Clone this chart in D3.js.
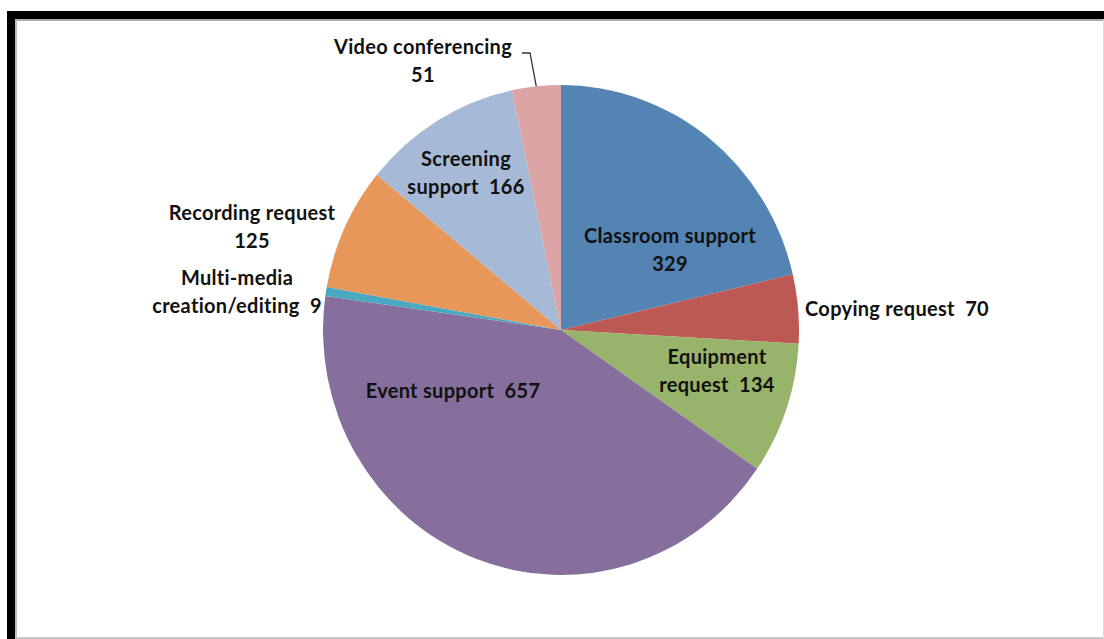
<!DOCTYPE html>
<html>
<head>
<meta charset="utf-8">
<script src="https://cdn.jsdelivr.net/npm/d3@7"></script>
<style>
  html, body { margin: 0; padding: 0; background: #fff; }
  svg { display: block; }
  .lbl { font-family: Lato, "Open Sans", sans-serif; font-weight: 700; font-size: 20px; letter-spacing: 0.3px; fill: #111; }
</style>
</head>
<body>
<svg id="chart" width="1104" height="639"></svg>
<script>
const categories = ['Classroom support', 'Copying request', 'Equipment request', 'Event support',
  'Multi-media creation/editing', 'Recording request', 'Screening support', 'Video conferencing'];
const values = [329, 70, 134, 657, 9, 125, 166, 51];
const colors = ['#5384b4', '#bd5955', '#98b36a', '#866f9d', '#4aa9c0', '#e8975a', '#a6b9d6', '#dca4a5'];
// label lines, as in the picture
const labelLines = [
  ['Classroom support', '329'],
  ['Copying request  70'],
  ['Equipment', 'request  134'],
  ['Event support  657'],
  ['Multi-media', 'creation/editing  9'],
  ['Recording request', '125'],
  ['Screening', 'support  166'],
  ['Video conferencing', '51'],
];
// label centres, relative to the pie centre
const labelPos = [
  [109, -80], [336, -21], [156, 41], [-108, 61],
  [-324, -38], [-309, -103], [-95, -157], [-138, -269],
];

const svg = d3.select('#chart');
const cx = 561, cy = 330, r = 245, sx = 238 / 245;

// frame
svg.append('rect').attr('x', 7).attr('y', 11).attr('width', 1097).attr('height', 8).attr('fill', '#000');
svg.append('rect').attr('x', 7).attr('y', 11).attr('width', 8).attr('height', 628).attr('fill', '#000');
svg.append('line').attr('x1', 15).attr('x2', 1104).attr('y1', 20).attr('y2', 20)
  .attr('stroke', '#aaa').attr('stroke-width', 2);
svg.append('line').attr('x1', 16).attr('x2', 16).attr('y1', 19).attr('y2', 639)
  .attr('stroke', '#bbb').attr('stroke-width', 2);
svg.append('line').attr('x1', 15).attr('x2', 1104).attr('y1', 638).attr('y2', 638)
  .attr('stroke', '#c8c8c8').attr('stroke-width', 2);
svg.append('line').attr('x1', 1103.5).attr('x2', 1103.5).attr('y1', 19).attr('y2', 639)
  .attr('stroke', '#ddd').attr('stroke-width', 1);

const pie = d3.pie().sort(null).value((d) => d)(values);
const arc = d3.arc().innerRadius(0).outerRadius(r);

const g = svg.append('g').attr('transform', `translate(${cx},${cy})`);
g.append('g')
  .attr('transform', `scale(${sx},1)`)
  .selectAll('path')
  .data(pie)
  .join('path')
  .attr('d', arc)
  .attr('fill', (d, i) => colors[i]);

// leader line for video conferencing
const vc = pie[7];
const mid = (vc.startAngle + vc.endAngle) / 2;
const edge = [Math.sin(mid) * r * sx, -Math.cos(mid) * r];
g.append('polyline')
  .attr('points', [[-39, -277], [-31, -277], edge].map((p) => p.join(',')).join(' '))
  .attr('fill', 'none')
  .attr('stroke', '#333')
  .attr('stroke-width', 1.3);

g.append('g')
  .selectAll('text')
  .data(labelLines)
  .join('text')
  .attr('class', 'lbl')
  .attr('text-anchor', 'middle')
  .attr('transform', (d, i) => `translate(${labelPos[i][0]},${labelPos[i][1]})`)
  .each(function (lines) {
    const t = d3.select(this);
    const y0 = -(lines.length - 1) * 14;
    lines.forEach((ln, k) => {
      t.append('tspan')
        .attr('x', 0)
        .attr('y', y0 + k * 28)
        .attr('dy', '0.35em')
        .attr('xml:space', 'preserve')
        .text(ln);
    });
  });
</script>
</body>
</html>
